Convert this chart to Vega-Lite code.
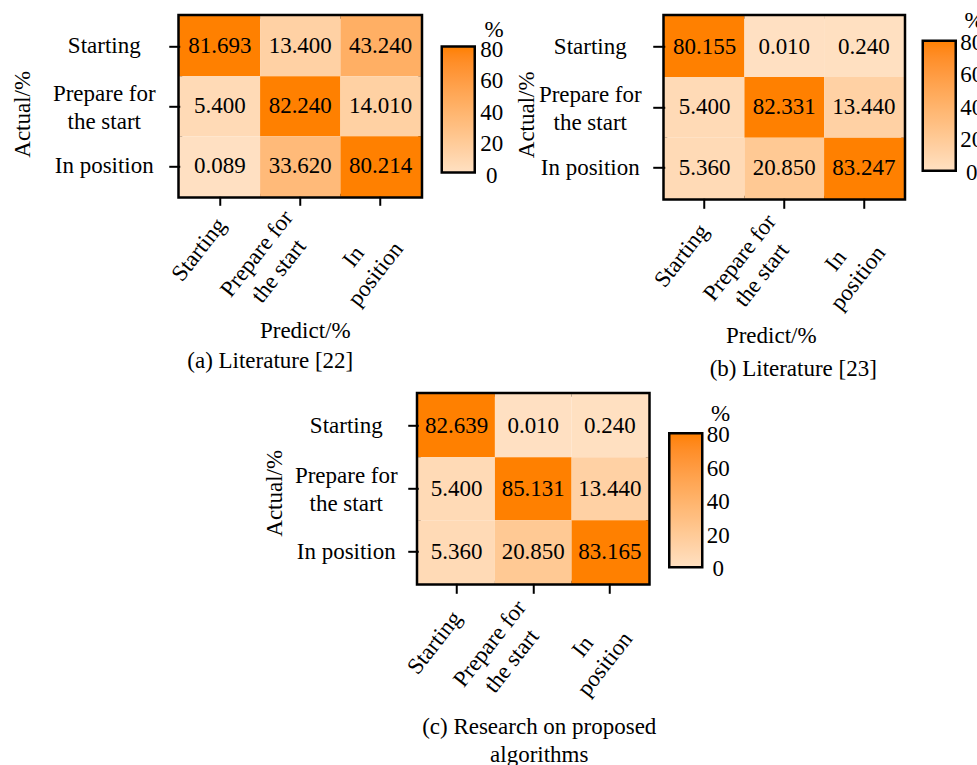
{
  "$schema": "https://vega.github.io/schema/vega-lite/v6.json",
  "background": "white",
  "padding": {"left": 8.5, "top": 7.3, "right": 0, "bottom": 0},
  "autosize": {"type": "pad"},
  "datasets": {
    "cm": [
      {"panel": "a", "actual": "Starting", "predict": "Starting", "pct": 81.693},
      {"panel": "a", "actual": "Starting", "predict": "Prepare for the start", "pct": 13.4},
      {"panel": "a", "actual": "Starting", "predict": "In position", "pct": 43.24},
      {"panel": "a", "actual": "Prepare for the start", "predict": "Starting", "pct": 5.4},
      {"panel": "a", "actual": "Prepare for the start", "predict": "Prepare for the start", "pct": 82.24},
      {"panel": "a", "actual": "Prepare for the start", "predict": "In position", "pct": 14.01},
      {"panel": "a", "actual": "In position", "predict": "Starting", "pct": 0.089},
      {"panel": "a", "actual": "In position", "predict": "Prepare for the start", "pct": 33.62},
      {"panel": "a", "actual": "In position", "predict": "In position", "pct": 80.214},
      {"panel": "b", "actual": "Starting", "predict": "Starting", "pct": 80.155},
      {"panel": "b", "actual": "Starting", "predict": "Prepare for the start", "pct": 0.01},
      {"panel": "b", "actual": "Starting", "predict": "In position", "pct": 0.24},
      {"panel": "b", "actual": "Prepare for the start", "predict": "Starting", "pct": 5.4},
      {"panel": "b", "actual": "Prepare for the start", "predict": "Prepare for the start", "pct": 82.331},
      {"panel": "b", "actual": "Prepare for the start", "predict": "In position", "pct": 13.44},
      {"panel": "b", "actual": "In position", "predict": "Starting", "pct": 5.36},
      {"panel": "b", "actual": "In position", "predict": "Prepare for the start", "pct": 20.85},
      {"panel": "b", "actual": "In position", "predict": "In position", "pct": 83.247},
      {"panel": "c", "actual": "Starting", "predict": "Starting", "pct": 82.639},
      {"panel": "c", "actual": "Starting", "predict": "Prepare for the start", "pct": 0.01},
      {"panel": "c", "actual": "Starting", "predict": "In position", "pct": 0.24},
      {"panel": "c", "actual": "Prepare for the start", "predict": "Starting", "pct": 5.4},
      {"panel": "c", "actual": "Prepare for the start", "predict": "Prepare for the start", "pct": 85.131},
      {"panel": "c", "actual": "Prepare for the start", "predict": "In position", "pct": 13.44},
      {"panel": "c", "actual": "In position", "predict": "Starting", "pct": 5.36},
      {"panel": "c", "actual": "In position", "predict": "Prepare for the start", "pct": 20.85},
      {"panel": "c", "actual": "In position", "predict": "In position", "pct": 83.165}
    ]
  },
  "vconcat": [
    {
      "hconcat": [
        {
          "width": 241,
          "height": 180,
          "data": {"name": "cm"},
          "transform": [{"filter": "datum.panel === 'a'"}],
          "title": {"text": "(a) Literature [22]", "offset": 7, "dx": -30},
          "encoding": {
            "x": {
              "field": "predict", "type": "nominal",
              "sort": ["Starting", "Prepare for the start", "In position"],
              "scale": {"paddingInner": 0, "paddingOuter": 0},
              "axis": {
                "title": "Predict/%", "titleX": 125, "titleY": 134.5, "titleBaseline": "middle", "titleAnchor": null,
                "tickSize": 9, "labelAngle": -52, "labelAlign": "center", "labelBaseline": "middle",
                "labelOffset": {"condition": [{"test": "datum.value === 'Starting'", "value": -21}, {"test": "datum.value === 'In position'", "value": -27}], "value": -43.5},
                "labelPadding": {"condition": [{"test": "datum.value === 'Starting'", "value": 44}, {"test": "datum.value === 'In position'", "value": 51}], "value": 48},
                "labelExpr": "datum.value === 'Prepare for the start' ? ['Prepare for', 'the start'] : datum.value === 'In position' ? ['In', 'position'] : datum.value"
              }
            },
            "y": {
              "field": "actual", "type": "nominal",
              "sort": ["Starting", "Prepare for the start", "In position"],
              "scale": {"paddingInner": 0, "paddingOuter": 0},
              "axis": {
                "title": "Actual/%", "titleX": -157, "titleY": 97.5, "titleBaseline": "middle", "titleAngle": -90,
                "tickSize": 11, "labelPadding": 65, "labelAlign": "center", "labelBaseline": "middle",
                "labelOffset": {"condition": {"test": "datum.value === 'Prepare for the start'", "value": -12.5}, "value": 0},
                "labelExpr": "datum.value === 'Prepare for the start' ? ['Prepare for', 'the start'] : datum.value"
              }
            }
          },
          "layer": [
            {
              "mark": {"type": "rect"},
              "encoding": {
                "color": {
                  "field": "pct", "type": "quantitative",
                  "scale": {"domain": [0, 80], "range": ["#FFE0C2", "#FF8000"], "clamp": true},
                  "legend": {"title": "%", "values": [0, 20, 40, 60, 80], "orient": "none", "legendX": 262, "legendY": 2.8, "padding": 0,
                    "gradientLength": 126, "labelOffset": 17, "titlePadding": 4.5,
                    "encode": {"labels": {"update": {"baseline": {"value": "middle"}, "align": {"value": "center"}, "dy": {"value": 3}}}}}
                }
              }
            },
            {
              "mark": {"type": "text", "fontSize": 23, "color": "black"},
              "encoding": {"text": {"field": "pct", "type": "quantitative", "format": ".3f"}}
            }
          ]
        },
        {
          "width": 239,
          "height": 182,
          "data": {"name": "cm"},
          "transform": [{"filter": "datum.panel === 'b'"}],
          "title": {"text": "(b) Literature [23]", "offset": 10, "dx": 9},
          "encoding": {
            "x": {
              "field": "predict", "type": "nominal",
              "sort": ["Starting", "Prepare for the start", "In position"],
              "scale": {"paddingInner": 0, "paddingOuter": 0},
              "axis": {
                "title": "Predict/%", "titleX": 106, "titleY": 137.5, "titleBaseline": "middle", "titleAnchor": null,
                "tickSize": 10, "labelAngle": -52, "labelAlign": "center", "labelBaseline": "middle",
                "labelOffset": {"condition": [{"test": "datum.value === 'Starting'", "value": -23}, {"test": "datum.value === 'In position'", "value": -28}], "value": -44.5},
                "labelPadding": {"condition": [{"test": "datum.value === 'Starting'", "value": 47}, {"test": "datum.value === 'In position'", "value": 52}], "value": 49},
                "labelExpr": "datum.value === 'Prepare for the start' ? ['Prepare for', 'the start'] : datum.value === 'In position' ? ['In', 'position'] : datum.value"
              }
            },
            "y": {
              "field": "actual", "type": "nominal",
              "sort": ["Starting", "Prepare for the start", "In position"],
              "scale": {"paddingInner": 0, "paddingOuter": 0},
              "axis": {
                "title": "Actual/%", "titleX": -138, "titleY": 98, "titleBaseline": "middle", "titleAngle": -90,
                "tickSize": 12, "labelPadding": 63, "labelAlign": "center", "labelBaseline": "middle",
                "labelOffset": {"condition": {"test": "datum.value === 'Prepare for the start'", "value": -12.5}, "value": 0},
                "labelExpr": "datum.value === 'Prepare for the start' ? ['Prepare for', 'the start'] : datum.value"
              }
            }
          },
          "layer": [
            {
              "mark": {"type": "rect"},
              "encoding": {
                "color": {
                  "field": "pct", "type": "quantitative",
                  "scale": {"domain": [0, 80], "range": ["#FFE0C2", "#FF8000"], "clamp": true},
                  "legend": {"title": "%", "values": [0, 20, 40, 60, 80], "orient": "none", "legendX": 258, "legendY": -6.2, "padding": 0,
                    "gradientLength": 130, "labelOffset": 16, "titlePadding": 7.7,
                    "encode": {"labels": {"update": {"baseline": {"value": "middle"}, "align": {"value": "center"}, "dy": {"value": 2}}}}}
                }
              }
            },
            {
              "mark": {"type": "text", "fontSize": 23, "color": "black"},
              "encoding": {"text": {"field": "pct", "type": "quantitative", "format": ".3f"}}
            }
          ]
        }
      ],
      "spacing": 6,
      "align": "none",
      "resolve": {
        "scale": {"x": "independent", "y": "independent", "color": "independent"},
        "legend": {"color": "independent"}
      }
    },
    {
      "width": 230,
      "height": 189,
      "data": {"name": "cm"},
      "transform": [{"filter": "datum.panel === 'c'"}],
      "title": {"text": ["(c) Research on proposed", "algorithms"], "offset": 8, "dx": 6},
      "encoding": {
        "x": {
          "field": "predict", "type": "nominal",
          "sort": ["Starting", "Prepare for the start", "In position"],
          "scale": {"paddingInner": 0, "paddingOuter": 0},
          "axis": {
            "title": null,
            "tickSize": 10, "labelAngle": -52, "labelAlign": "center", "labelBaseline": "middle",
            "labelOffset": {"condition": [{"test": "datum.value === 'Starting'", "value": -22}, {"test": "datum.value === 'In position'", "value": -27}], "value": -43.5},
            "labelPadding": {"condition": [{"test": "datum.value === 'Starting'", "value": 49}, {"test": "datum.value === 'In position'", "value": 53}], "value": 50},
            "labelExpr": "datum.value === 'Prepare for the start' ? ['Prepare for', 'the start'] : datum.value === 'In position' ? ['In', 'position'] : datum.value"
          }
        },
        "y": {
          "field": "actual", "type": "nominal",
          "sort": ["Starting", "Prepare for the start", "In position"],
          "scale": {"paddingInner": 0, "paddingOuter": 0},
          "axis": {
            "title": "Actual/%", "titleX": -143.5, "titleY": 98.5, "titleBaseline": "middle", "titleAngle": -90,
            "tickSize": 10.5, "labelPadding": 62, "labelAlign": "center", "labelBaseline": "middle",
            "labelOffset": {"condition": {"test": "datum.value === 'Prepare for the start'", "value": -12.5}, "value": 0},
            "labelExpr": "datum.value === 'Prepare for the start' ? ['Prepare for', 'the start'] : datum.value"
          }
        }
      },
      "layer": [
        {
          "mark": {"type": "rect"},
          "encoding": {
            "color": {
              "field": "pct", "type": "quantitative",
              "scale": {"domain": [0, 80], "range": ["#FFE0C2", "#FF8000"], "clamp": true},
              "legend": {"title": "%", "values": [0, 20, 40, 60, 80], "orient": "none", "legendX": 236, "legendY": -6.7, "padding": 15, "fillColor": "white",
                "gradientLength": 134, "labelOffset": 16, "titlePadding": 7.7,
                "encode": {"labels": {"update": {"baseline": {"value": "middle"}, "align": {"value": "center"}, "dy": {"value": 2}}}}}
            }
          }
        },
        {
          "mark": {"type": "text", "fontSize": 23, "color": "black"},
          "encoding": {"text": {"field": "pct", "type": "quantitative", "format": ".3f"}}
        }
      ]
    }
  ],
  "spacing": 1,
  "center": true,
  "resolve": {
    "scale": {"x": "independent", "y": "independent", "color": "independent"},
    "legend": {"color": "independent"}
  },
  "config": {
    "font": "Liberation Serif",
    "view": {"stroke": "black", "strokeWidth": 5},
    "axis": {
      "domain": false, "grid": false, "ticks": true,
      "tickColor": "black", "tickWidth": 2,
      "labelFontSize": 23, "labelColor": "black", "labelLineHeight": 28, "labelLimit": 0,
      "titleFontSize": 23, "titleFontWeight": "normal", "titleColor": "black"
    },
    "legend": {
      "direction": "vertical",
      "gradientThickness": 33,
      "gradientStrokeColor": "black",
      "gradientStrokeWidth": 2.5,
      "labelOverlap": false,
      "labelFontSize": 23,
      "labelColor": "black",
      "titleFontSize": 23,
      "titleFontWeight": "normal",
      "titleColor": "black",
      "titleAnchor": "end",
      "titleBaseline": "top"
    },
    "title": {
      "fontSize": 23, "fontWeight": "normal", "color": "black",
      "orient": "bottom", "frame": "group", "anchor": "middle", "lineHeight": 28
    }
  }
}
